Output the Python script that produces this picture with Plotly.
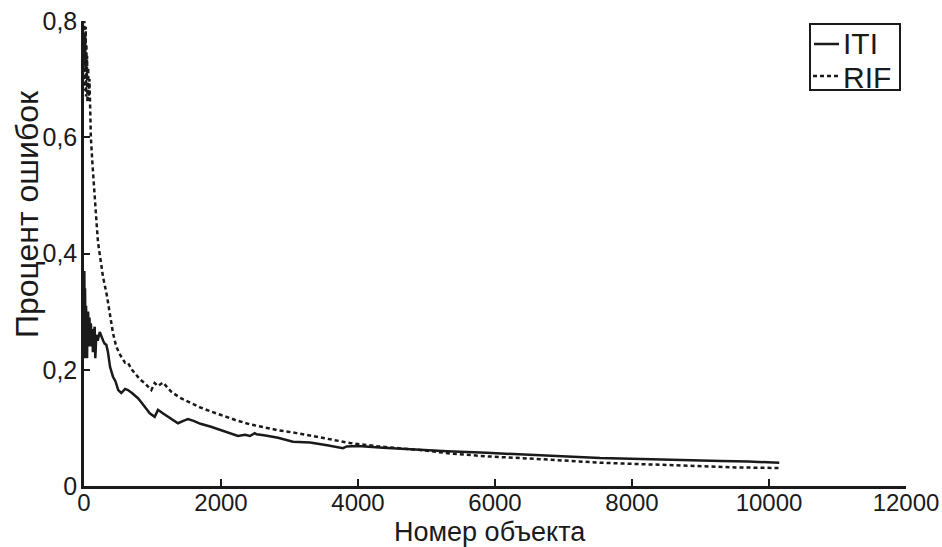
import plotly.graph_objects as go

# ITI (solid line)
iti_x = [1, 5, 10, 15, 20, 25, 30, 35, 40, 45, 50, 55, 60, 70, 80, 90, 100, 110, 120, 130, 140,
         156, 165, 180, 200, 230, 253, 280, 300, 326, 350, 380, 423, 460, 500, 545, 600, 642, 700,
         788, 850, 900, 960, 1032, 1080, 1150, 1250, 1372, 1450, 1518, 1600, 1700, 1854, 2000, 2100,
         2248, 2350, 2423, 2492, 2521, 2650, 2832, 3051, 3300, 3550, 3781, 3835, 4000, 4365, 4905,
         5300, 5879, 6380, 6701, 7533, 8290, 8850, 9300, 9700, 10150]
iti_y = [0.25, 0.37, 0.22, 0.34, 0.30, 0.23, 0.31, 0.25, 0.30, 0.22, 0.29, 0.24, 0.30, 0.25, 0.29,
         0.24, 0.28, 0.25, 0.27, 0.23, 0.26, 0.274, 0.22, 0.26, 0.25, 0.265, 0.257, 0.25, 0.245,
         0.243, 0.23, 0.205, 0.188, 0.18, 0.165, 0.16, 0.167, 0.165, 0.16, 0.151, 0.142, 0.135,
         0.125, 0.119, 0.131, 0.125, 0.117, 0.108, 0.112, 0.115, 0.112, 0.107, 0.102, 0.096, 0.092,
         0.086, 0.088, 0.086, 0.091, 0.089, 0.087, 0.083, 0.076, 0.075, 0.070, 0.065, 0.068, 0.069,
         0.066, 0.062, 0.060, 0.057, 0.0545, 0.052, 0.048, 0.046, 0.045, 0.043, 0.042, 0.040]

# RIF (dashed line)
rif_x = [1, 5, 10, 15, 20, 25, 30, 35, 40, 45, 50, 60, 70, 80, 88, 100, 120, 140, 160, 185, 204,
         234, 277, 331, 380, 423, 470, 530, 600, 642, 700, 764, 820, 886, 940, 983, 1032, 1080,
         1153, 1200, 1275, 1400, 1567, 1700, 1859, 2000, 2200, 2423, 2589, 2832, 3104, 3500, 3884,
         4300, 4657, 4905, 5343, 5879, 6701, 7533, 8290, 8850, 9500, 10150]
rif_y = [0.70, 0.80, 0.68, 0.78, 0.72, 0.79, 0.67, 0.76, 0.70, 0.74, 0.66, 0.72, 0.67, 0.70, 0.62,
         0.60, 0.56, 0.52, 0.49, 0.45, 0.42, 0.395, 0.36, 0.33, 0.29, 0.263, 0.24, 0.225, 0.212,
         0.212, 0.20, 0.191, 0.183, 0.177, 0.17, 0.165, 0.177, 0.172, 0.178, 0.172, 0.162, 0.152,
         0.142, 0.135, 0.128, 0.122, 0.114, 0.106, 0.102, 0.096, 0.091, 0.082, 0.074, 0.068, 0.065,
         0.062, 0.056, 0.051, 0.046, 0.040, 0.037, 0.0345, 0.032, 0.031]

series_names = ["ITI", "RIF"]
x_ticks = [0, 2000, 4000, 6000, 8000, 10000, 12000]
x_ticktext = ["0", "2000", "4000", "6000", "8000", "10000", "12000"]
y_ticks = [0, 0.2, 0.4, 0.6, 0.8]
y_ticktext = ["0", "0,2", "0,4", "0,6", "0,8"]
x_title = "Номер объекта"
y_title = "Процент ошибок"

FONT = "Liberation Sans, Arial, sans-serif"
INK = "#1a1a1a"

# plot-area geometry in pixels (used only for paper-coordinate conversions)
L, R, T, B = 84, 906, 21, 486
def px(x):
    return (x - L) / (R - L)
def py(y):
    return (B - y) / (B - T)

fig = go.Figure()
fig.add_trace(go.Scatter(x=iti_x, y=iti_y, mode="lines", name=series_names[0],
                         line=dict(color=INK, width=2.5), cliponaxis=False))
fig.add_trace(go.Scatter(x=rif_x, y=rif_y, mode="lines", name=series_names[1],
                         line=dict(color=INK, width=2.5, dash="4px,3px"), cliponaxis=False))

shapes = [
    # legend box
    dict(type="rect", xref="paper", yref="paper", x0=px(810), x1=px(900), y0=py(90), y1=py(24),
         line=dict(color=INK, width=2), fillcolor="white", layer="above"),
    dict(type="line", xref="paper", yref="paper", x0=px(814), x1=px(839), y0=py(44), y1=py(44),
         line=dict(color=INK, width=2.5), layer="above"),
    dict(type="line", xref="paper", yref="paper", x0=px(813), x1=px(840), y0=py(76), y1=py(76),
         line=dict(color=INK, width=2.5, dash="4px,3px"), layer="above"),
]
annotations = [
    dict(text=series_names[0], xref="paper", yref="paper", x=px(841), y=py(44),
         xanchor="left", yanchor="middle", showarrow=False, font=dict(size=30, family=FONT, color=INK)),
    dict(text=series_names[1], xref="paper", yref="paper", x=px(841), y=py(77),
         xanchor="left", yanchor="middle", showarrow=False, font=dict(size=30, family=FONT, color=INK)),
    dict(text=x_title, xref="paper", yref="paper", x=px(490), y=py(532),
         xanchor="center", yanchor="middle", showarrow=False, font=dict(size=27, family=FONT, color=INK)),
    dict(text=y_title, xref="paper", yref="paper", x=px(27), y=py(214), textangle=-90,
         xanchor="center", yanchor="middle", showarrow=False, font=dict(size=32, family=FONT, color=INK)),
]

fig.update_layout(
    width=942, height=547,
    margin=dict(l=L, r=942 - R, t=T, b=547 - B, autoexpand=False),
    paper_bgcolor="white", plot_bgcolor="white",
    font=dict(family=FONT, color=INK),
    showlegend=False,
    shapes=shapes,
    annotations=annotations,
)
fig.update_xaxes(range=[0, 12000], tickvals=x_ticks, ticktext=x_ticktext,
                 showline=True, linecolor=INK, linewidth=2.5,
                 ticks="inside", ticklen=7, tickwidth=2, tickcolor=INK,
                 showgrid=False, zeroline=False, ticklabeloverflow="allow",
                 ticklabelstandoff=-7, automargin=False,
                 tickfont=dict(size=24, family=FONT))
fig.update_yaxes(range=[0, 0.8], tickvals=y_ticks, ticktext=y_ticktext,
                 showline=True, linecolor=INK, linewidth=2.5,
                 ticks="inside", ticklen=6, tickwidth=2, tickcolor=INK,
                 showgrid=False, zeroline=False, ticklabeloverflow="allow",
                 ticklabelstandoff=-1, automargin=False,
                 tickfont=dict(size=25, family=FONT))

fig.write_html("out.html")
